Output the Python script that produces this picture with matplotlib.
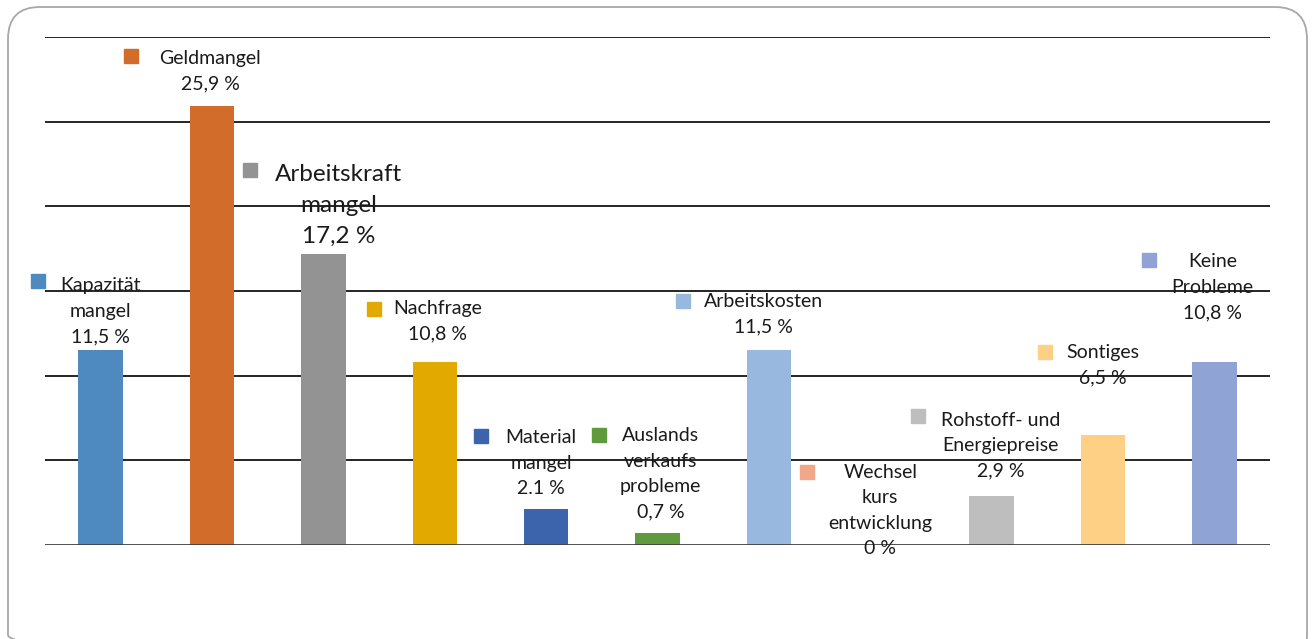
import matplotlib.pyplot as plt
from matplotlib.patches import FancyBboxPatch
from matplotlib.transforms import offset_copy

# Chart data
categories = ["Kapazität\nmangel", "Geldmangel", "Arbeitskraft\nmangel", "Nachfrage",
              "Material\nmangel", "Auslands\nverkaufs\nprobleme", "Arbeitskosten",
              "Wechsel\nkurs\nentwicklung", "Rohstoff- und\nEnergiepreise",
              "Sontiges", "Keine\nProbleme"]
values = [11.5, 25.9, 17.2, 10.8, 2.1, 0.7, 11.5, 0, 2.9, 6.5, 10.8]
value_labels = ["11,5 %", "25,9 %", "17,2 %", "10,8 %", "2.1 %", "0,7 %",
                "11,5 %", "0 %", "2,9 %", "6,5 %", "10,8 %"]
colors = ["#4e8ac0", "#d26c2b", "#939393", "#e2aa00", "#3b64ad", "#5f9a3d",
          "#98b8e0", "#f0a78a", "#bebebe", "#fdd085", "#8fa3d4"]

# label placement, pixels relative to bar top centre
text_dx = [0, -2, 15, 3, -5, 3, -5, 0, 9, 0, -2]
text_dy = [66, 49, 83, 55, 73, 99, 50, 74, 77, 84, 102]
mark_dx = [-63, -81, -73, -61, -65, -59, -86, -73, -74, -58, -65]
mark_dy = [69, 50, 84, 53, 73, 98, 49, 73, 80, 83, 102]
sizes = [14, 14, 17.5, 14, 14, 14, 14, 14, 14, 14, 14]

plt.rcParams['font.family'] = ['Lato', 'DejaVu Sans']

fig = plt.figure(figsize=(13.14, 6.39), dpi=100)

# rounded frame drawn in pixel space
bg = fig.add_axes([0, 0, 1, 1])
bg.set_xlim(0, 1314)
bg.set_ylim(639, 0)
bg.axis('off')
bg.add_patch(FancyBboxPatch((8, 7), 1299, 660,
                            boxstyle="round,pad=0,rounding_size=32",
                            fill=False, edgecolor="#a8a8a8", linewidth=1.3))

ax = fig.add_axes([45 / 1314, 1 - 545 / 639, 1225 / 1314, 508 / 639])

x = list(range(len(values)))
ax.bar(x, values, width=0.4, color=colors, zorder=3)

for g in [5, 10, 15, 20, 25, 30]:
    ax.axhline(g, color="black", linewidth=1.2, zorder=1)
ax.axhline(0, color="#404040", linewidth=2, zorder=4)

for i in x:
    t = offset_copy(ax.transData, fig=fig, x=text_dx[i], y=text_dy[i] + 7, units='dots')
    ax.text(i, values[i], categories[i] + "\n" + value_labels[i], transform=t,
            ha='center', va='top', fontsize=sizes[i], color="#1a1a1a",
            linespacing=1.6, zorder=5)
    m = offset_copy(ax.transData, fig=fig, x=mark_dx[i], y=mark_dy[i], units='dots')
    ax.plot([i], [values[i]], marker='s', markersize=10, color=colors[i],
            linestyle='none', transform=m, zorder=5, clip_on=False)

ax.set_xlim(-0.5, 10.5)
ax.set_ylim(0, 30)
ax.axis('off')

fig.savefig("out.png", dpi=100)
